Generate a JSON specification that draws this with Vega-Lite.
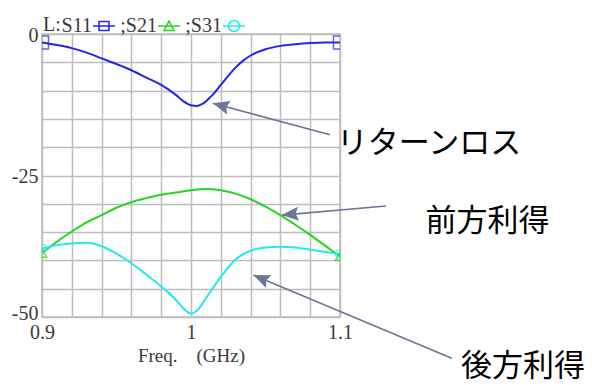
{
  "$schema": "https://vega.github.io/schema/vega-lite/v6.json",
  "width": 298,
  "height": 283,
  "autosize": {"type": "none"},
  "padding": {"left": 42, "top": 34, "right": 252, "bottom": 68},
  "background": "white",
  "config": {
    "view": {"stroke": "#bdbdbd", "strokeWidth": 1.5},
    "font": "Liberation Serif"
  },
  "datasets": {
    "sparams": [
      {"f": 0.90, "series": "S11", "db": -1.5},
      {"f": 0.91, "series": "S11", "db": -1.95},
      {"f": 0.92, "series": "S11", "db": -2.5},
      {"f": 0.93, "series": "S11", "db": -3.3},
      {"f": 0.94, "series": "S11", "db": -4.3},
      {"f": 0.95, "series": "S11", "db": -5.3},
      {"f": 0.96, "series": "S11", "db": -6.4},
      {"f": 0.97, "series": "S11", "db": -7.7},
      {"f": 0.98, "series": "S11", "db": -9.0},
      {"f": 0.99, "series": "S11", "db": -10.8},
      {"f": 0.995, "series": "S11", "db": -11.9},
      {"f": 1.00, "series": "S11", "db": -12.6},
      {"f": 1.004, "series": "S11", "db": -12.7},
      {"f": 1.008, "series": "S11", "db": -12.3},
      {"f": 1.012, "series": "S11", "db": -11.4},
      {"f": 1.016, "series": "S11", "db": -10.3},
      {"f": 1.02, "series": "S11", "db": -9.0},
      {"f": 1.025, "series": "S11", "db": -7.4},
      {"f": 1.03, "series": "S11", "db": -5.9},
      {"f": 1.035, "series": "S11", "db": -4.7},
      {"f": 1.04, "series": "S11", "db": -3.8},
      {"f": 1.05, "series": "S11", "db": -2.7},
      {"f": 1.06, "series": "S11", "db": -2.1},
      {"f": 1.07, "series": "S11", "db": -1.8},
      {"f": 1.08, "series": "S11", "db": -1.6},
      {"f": 1.09, "series": "S11", "db": -1.5},
      {"f": 1.10, "series": "S11", "db": -1.5},
      {"f": 0.90, "series": "S21", "db": -38.7},
      {"f": 0.91, "series": "S21", "db": -36.7},
      {"f": 0.92, "series": "S21", "db": -34.9},
      {"f": 0.93, "series": "S21", "db": -33.3},
      {"f": 0.94, "series": "S21", "db": -32.0},
      {"f": 0.95, "series": "S21", "db": -30.7},
      {"f": 0.96, "series": "S21", "db": -29.7},
      {"f": 0.97, "series": "S21", "db": -29.0},
      {"f": 0.98, "series": "S21", "db": -28.4},
      {"f": 0.99, "series": "S21", "db": -28.0},
      {"f": 1.00, "series": "S21", "db": -27.6},
      {"f": 1.01, "series": "S21", "db": -27.4},
      {"f": 1.02, "series": "S21", "db": -27.6},
      {"f": 1.03, "series": "S21", "db": -28.2},
      {"f": 1.04, "series": "S21", "db": -29.2},
      {"f": 1.05, "series": "S21", "db": -30.5},
      {"f": 1.06, "series": "S21", "db": -32.0},
      {"f": 1.07, "series": "S21", "db": -33.7},
      {"f": 1.08, "series": "S21", "db": -35.5},
      {"f": 1.09, "series": "S21", "db": -37.4},
      {"f": 1.10, "series": "S21", "db": -39.3},
      {"f": 0.90, "series": "S31", "db": -37.9},
      {"f": 0.91, "series": "S31", "db": -37.3},
      {"f": 0.92, "series": "S31", "db": -37.0},
      {"f": 0.93, "series": "S31", "db": -36.9},
      {"f": 0.94, "series": "S31", "db": -37.5},
      {"f": 0.95, "series": "S31", "db": -38.8},
      {"f": 0.96, "series": "S31", "db": -40.5},
      {"f": 0.97, "series": "S31", "db": -42.5},
      {"f": 0.98, "series": "S31", "db": -44.6},
      {"f": 0.99, "series": "S31", "db": -47.0},
      {"f": 0.995, "series": "S31", "db": -48.5},
      {"f": 1.00, "series": "S31", "db": -49.4},
      {"f": 1.005, "series": "S31", "db": -48.6},
      {"f": 1.01, "series": "S31", "db": -46.7},
      {"f": 1.02, "series": "S31", "db": -42.9},
      {"f": 1.03, "series": "S31", "db": -39.8},
      {"f": 1.04, "series": "S31", "db": -38.3},
      {"f": 1.05, "series": "S31", "db": -37.7},
      {"f": 1.06, "series": "S31", "db": -37.6},
      {"f": 1.07, "series": "S31", "db": -37.7},
      {"f": 1.08, "series": "S31", "db": -38.1},
      {"f": 1.09, "series": "S31", "db": -38.5},
      {"f": 1.10, "series": "S31", "db": -38.9}
    ],
    "notes": [
      {"label": "リターンロス", "lx": 1.1597, "ly": -19.35, "tx": 1.0933, "ty": -17.8, "hx": 1.0146, "hy": -12.25},
      {"label": "前方利得", "lx": 1.199, "ly": -33.2, "tx": 1.1309, "ty": -30.4, "hx": 1.0609, "hy": -32.0},
      {"label": "後方利得", "lx": 1.2228, "ly": -58.9, "tx": 1.175, "ty": -57.3, "hx": 1.0418, "hy": -42.6}
    ]
  },
  "layer": [
    {
      "data": {"name": "sparams"},
      "mark": {"type": "line", "strokeWidth": 2, "interpolate": "monotone"},
      "encoding": {
        "x": {
          "field": "f", "type": "quantitative",
          "scale": {"domain": [0.9, 1.1], "nice": false, "zero": false},
          "axis": {
            "values": [0.9, 0.92, 0.94, 0.96, 0.98, 1.0, 1.02, 1.04, 1.06, 1.08, 1.1],
            "tickCount": 30,
            "grid": true, "gridColor": "#bdbdbd", "gridWidth": 1.5,
            "ticks": false, "domain": false, "labelFlush": false, "labelOverlap": false,
            "labelExpr": "abs(datum.value - 0.9) < 1e-9 ? '0.9' : abs(datum.value - 1) < 1e-9 ? '1' : abs(datum.value - 1.1) < 1e-9 ? '1.1' : ''",
            "labelFont": "Liberation Serif", "labelFontSize": 20, "labelColor": "#3a3a3a", "labelPadding": 5,
            "title": "Freq.　(GHz)", "titleFont": "Liberation Serif", "titleFontSize": 19,
            "titleFontWeight": "normal", "titleColor": "#3a3a3a", "titlePadding": 4
          }
        },
        "y": {
          "field": "db", "type": "quantitative",
          "scale": {"domain": [-50, 0], "nice": false, "zero": false},
          "axis": {
            "values": [0, -5, -10, -15, -20, -25, -30, -35, -40, -45, -50],
            "tickCount": 30,
            "grid": true, "gridColor": "#bdbdbd", "gridWidth": 1.5,
            "ticks": false, "domain": false, "labelOverlap": false,
            "labelExpr": "datum.value % 25 == 0 ? '' + datum.value : ''",
            "labelOffset": {"condition": {"test": "datum.value == -50", "value": -4}, "value": 1},
            "labelFont": "Liberation Serif", "labelFontSize": 20, "labelColor": "#3a3a3a", "labelPadding": 4,
            "title": null
          }
        },
        "color": {
          "field": "series", "type": "nominal",
          "scale": {"domain": ["S11", "S21", "S31"], "range": ["#2424ee", "#22d622", "#22eaf0"]},
          "legend": {
            "orient": "none", "legendX": 1, "legendY": -20, "direction": "horizontal", "columns": 3,
            "padding": 0, "columnPadding": 2,
            "title": "L:", "titleOrient": "left", "titleFont": "Liberation Serif", "titleFontSize": 20,
            "titleFontWeight": "normal", "titleColor": "#3a3a3a", "titlePadding": 31,
            "titleAnchor": "middle", "titleBaseline": "middle",
            "labelFont": "Liberation Serif", "labelFontSize": 20, "labelColor": "#3a3a3a",
            "labelAlign": "right", "labelOffset": -24,
            "labelExpr": "datum.value == 'S11' ? 'S11' : ';' + datum.value",
            "symbolSize": 484, "symbolStrokeWidth": 1.5,
            "encode": {
              "symbols": {
                "update": {
                  "shape": {"signal": "datum.value == 'S11' ? 'M-1,0H1M-0.45,-0.4H0.45V0.4H-0.45Z' : datum.value == 'S21' ? 'M-1,0H1M0,-0.45L0.45,0.4H-0.45Z' : 'M-1,0H1M0.5,0A0.5,0.5,0,1,1,-0.5,0A0.5,0.5,0,1,1,0.5,0Z'"},
                  "fill": {"value": "transparent"},
                  "size": {"value": 484}
                }
              }
            }
          }
        }
      }
    },
    {
      "data": {"name": "sparams"},
      "transform": [{"filter": "datum.series == 'S11' && (datum.f == 0.9 || datum.f == 1.1)"}],
      "mark": {"type": "point", "shape": "square", "filled": false, "size": 170, "strokeWidth": 1.5, "clip": true},
      "encoding": {
        "x": {"field": "f", "type": "quantitative"},
        "y": {"field": "db", "type": "quantitative"},
        "color": {"field": "series", "type": "nominal"}
      }
    },
    {
      "data": {"name": "sparams"},
      "transform": [{"filter": "datum.series == 'S21' && (datum.f == 0.9 || datum.f == 1.1)"}],
      "mark": {"type": "point", "shape": "triangle-up", "filled": false, "size": 90, "strokeWidth": 1.5, "clip": true},
      "encoding": {
        "x": {"field": "f", "type": "quantitative"},
        "y": {"field": "db", "type": "quantitative"},
        "color": {"field": "series", "type": "nominal"}
      }
    },
    {
      "data": {"name": "sparams"},
      "transform": [{"filter": "datum.series == 'S31' && (datum.f == 0.9 || datum.f == 1.1)"}],
      "mark": {"type": "point", "shape": "circle", "filled": false, "size": 80, "strokeWidth": 1.5, "clip": true},
      "encoding": {
        "x": {"field": "f", "type": "quantitative"},
        "y": {"field": "db", "type": "quantitative"},
        "color": {"field": "series", "type": "nominal"}
      }
    },
    {
      "data": {"name": "notes"},
      "mark": {"type": "rule", "color": "#6b7799", "strokeWidth": 1.6},
      "encoding": {
        "x": {"field": "tx", "type": "quantitative"},
        "y": {"field": "ty", "type": "quantitative"},
        "x2": {"field": "hx"},
        "y2": {"field": "hy"}
      }
    },
    {
      "data": {"name": "notes"},
      "transform": [
        {"calculate": "atan2((datum.hx - datum.tx) * 1490, (datum.hy - datum.ty) * 5.66) * 180 / PI", "as": "heading"}
      ],
      "mark": {"type": "point", "shape": "M0,0L0.5,1.2L0,1L-0.5,1.2Z", "filled": true, "color": "#6b7799", "size": 784, "opacity": 1, "strokeWidth": 0},
      "encoding": {
        "x": {"field": "hx", "type": "quantitative"},
        "y": {"field": "hy", "type": "quantitative"},
        "angle": {"field": "heading", "type": "quantitative", "scale": null}
      }
    },
    {
      "data": {"name": "notes"},
      "mark": {"type": "text", "font": "Noto Sans CJK JP", "fontSize": 31, "color": "#000", "align": "center", "baseline": "middle"},
      "encoding": {
        "x": {"field": "lx", "type": "quantitative"},
        "y": {"field": "ly", "type": "quantitative"},
        "text": {"field": "label"}
      }
    }
  ]
}
